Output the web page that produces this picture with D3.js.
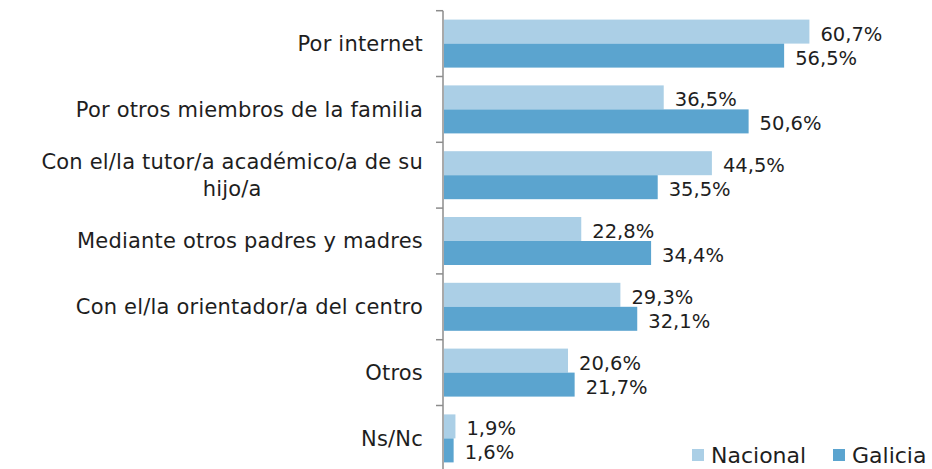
<!DOCTYPE html>
<html>
<head>
<meta charset="utf-8">
<script src="https://cdn.jsdelivr.net/npm/d3@7"></script>
<style>
  html, body { margin: 0; padding: 0; background: #fff; }
  svg { display: block; }
  text { font-family: "DejaVu Sans", sans-serif; fill: #1e1e1e; }
</style>
</head>
<body>
<svg id="chart" width="932" height="469"></svg>
<script>
// Canales de información utilizados por las familias
const categories = [
  "Por internet",
  "Por otros miembros de la familia",
  "Con el/la tutor/a académico/a de su hijo/a",
  "Mediante otros padres y madres",
  "Con el/la orientador/a del centro",
  "Otros",
  "Ns/Nc"
];
const seriesNames = ["Nacional", "Galicia"];
const nacional = [60.7, 36.5, 44.5, 22.8, 29.3, 20.6, 1.9];
const galicia  = [56.5, 50.6, 35.5, 34.4, 32.1, 21.7, 1.6];

const colors = { Nacional: "#abcfe6", Galicia: "#5ba4cf" };

const svg = d3.select("#chart");
const axisX = 443;
const plotTop = 10.7, band = 65.8;

const y = d3.scaleBand()
  .domain(categories)
  .range([plotTop, plotTop + band * categories.length])
  .paddingInner(0).paddingOuter(0);

const x = d3.scaleLinear().domain([0, 70]).range([axisX + 1, axisX + 1 + 70 * 6.02]);

const barH = 24;
const ySub = d3.scaleBand().domain(seriesNames)
  .range([y.bandwidth() / 2 - barH, y.bandwidth() / 2 + barH]);

const rows = categories.map((c, i) => ({
  cat: c,
  values: [
    { key: "Nacional", v: nacional[i] },
    { key: "Galicia", v: galicia[i] }
  ]
}));

// Bars
const g = svg.append("g");
const rowG = g.selectAll("g.row").data(rows).join("g")
  .attr("class", "row")
  .attr("transform", d => `translate(0,${y(d.cat)})`);

rowG.selectAll("rect").data(d => d.values).join("rect")
  .attr("x", x(0))
  .attr("y", d => ySub(d.key))
  .attr("width", d => x(d.v) - x(0))
  .attr("height", ySub.bandwidth())
  .attr("fill", d => colors[d.key]);

// Value labels
const fmt = v => d3.format(".1f")(v).replace(".", ",") + "%";
rowG.selectAll("text.val").data(d => d.values).join("text")
  .attr("class", "val")
  .attr("x", d => x(d.v) + 11)
  .attr("y", d => ySub(d.key) + ySub.bandwidth() / 2 + 9)
  .attr("font-size", 19.5)
  .text(d => fmt(d.v));

// Category axis with ticks on the band boundaries
const axG = svg.append("g").attr("transform", `translate(${axisX},0)`);
axG.append("line")
  .attr("x1", 0).attr("x2", 0)
  .attr("y1", plotTop).attr("y2", plotTop + band * categories.length)
  .attr("stroke", "#8c8c8c").attr("stroke-width", 1.5);
axG.selectAll("line.bound").data(d3.range(categories.length + 1)).join("line")
  .attr("class", "bound")
  .attr("x1", -7).attr("x2", 0)
  .attr("y1", i => plotTop + i * band).attr("y2", i => plotTop + i * band)
  .attr("stroke", "#8c8c8c").attr("stroke-width", 1.5);

// Category labels, wrapped and right-aligned as a block
const labelRight = 423, maxW = 415, lineH = 27.6;
categories.forEach(c => {
  const t = svg.append("text").attr("font-size", 21).attr("letter-spacing", 0.2);
  const words = c.split(" ");
  const lines = [];
  let line = [];
  const probe = t.append("tspan");
  words.forEach(w => {
    line.push(w);
    probe.text(line.join(" "));
    if (probe.node().getComputedTextLength() > maxW && line.length > 1) {
      line.pop();
      lines.push(line.join(" "));
      line = [w];
    }
  });
  lines.push(line.join(" "));
  probe.remove();
  const widths = lines.map(l => {
    const s = t.append("tspan").text(l);
    const w = s.node().getComputedTextLength();
    s.remove();
    return w;
  });
  const blockW = d3.max(widths);
  const cx = labelRight - blockW / 2;
  const cy = y(c) + y.bandwidth() / 2;
  const firstBase = cy + 7.3 - (lines.length - 1) * lineH / 2;
  lines.forEach((l, i) => {
    t.append("tspan")
      .attr("x", cx)
      .attr("y", firstBase + i * lineH)
      .attr("text-anchor", "middle")
      .text(l);
  });
});

// Legend
const legend = [
  { key: "Nacional", x: 692 },
  { key: "Galicia", x: 833 }
];
const lg = svg.append("g");
lg.selectAll("rect").data(legend).join("rect")
  .attr("x", d => d.x).attr("y", 449).attr("width", 12).attr("height", 12)
  .attr("fill", d => colors[d.key]);
lg.selectAll("text").data(legend).join("text")
  .attr("x", d => d.x + 19).attr("y", 463)
  .attr("font-size", 22)
  .text(d => d.key);
</script>
</body>
</html>
